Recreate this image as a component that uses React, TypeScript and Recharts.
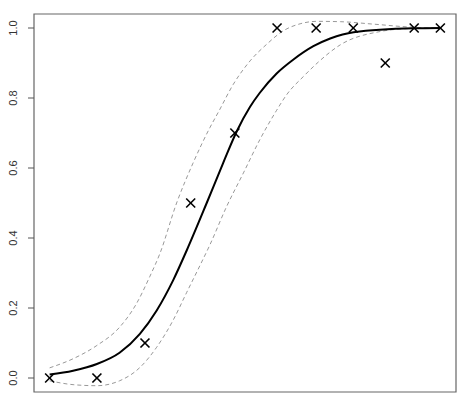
import { ComposedChart, Line, Scatter, XAxis, YAxis, ReferenceArea } from "recharts";

// observed proportions (x on the plot's own scale)
const obsX = [0, 1.21, 2.44, 3.61, 4.74, 5.82, 6.82, 7.77, 8.59, 9.33, 10];
const obsY = [0, 0, 0.1, 0.5, 0.7, 1, 1, 1, 0.9, 1, 1];

// fitted curve
const fitX = [0, 0.6, 1.21, 1.79, 2.31, 2.74, 3.16, 3.51, 4.02, 4.44, 4.79, 5.13, 5.38, 5.81, 6.24, 6.75, 7.18, 7.78, 9.32, 10];
const fitY = [0.01, 0.021, 0.04, 0.072, 0.126, 0.193, 0.279, 0.365, 0.5, 0.614, 0.705, 0.775, 0.815, 0.87, 0.91, 0.948, 0.97, 0.988, 0.999, 1];

// upper confidence band
const upX = [0, 0.6, 1.21, 1.79, 2.22, 2.56, 2.82, 3.25, 3.67, 4.1, 4.32, 4.7, 5.13, 5.56, 5.98, 6.41, 6.84, 7.44, 8.29, 9.32, 10];
const upY = [0.029, 0.055, 0.093, 0.145, 0.212, 0.289, 0.355, 0.5, 0.614, 0.715, 0.76, 0.839, 0.906, 0.954, 0.992, 1.012, 1.019, 1.018, 1.011, 1.002, 1];

// lower confidence band
const loX = [0, 0.6, 1.21, 1.79, 2.31, 2.74, 3.16, 3.51, 3.85, 4.1, 4.53, 4.96, 5.38, 5.81, 6.07, 6.5, 6.88, 7.44, 8.46, 9.15, 10];
const loY = [-0.008, -0.019, -0.022, -0.008, 0.03, 0.088, 0.165, 0.245, 0.322, 0.38, 0.49, 0.586, 0.681, 0.765, 0.81, 0.862, 0.903, 0.952, 0.99, 0.998, 1];

const yTicks = [0, 0.2, 0.4, 0.6, 0.8, 1];

const pair = (xs: number[], ys: number[]) => xs.map((x, i) => ({ x, y: ys[i] }));
const pts = pair(obsX, obsY);
const fit = pair(fitX, fitY);
const upper = pair(upX, upY);
const lower = pair(loX, loY);

function Cross(props: any) {
  const { cx, cy } = props;
  const s = 4.5;
  return (
    <g stroke="#000" strokeWidth={1.6}>
      <line x1={cx - s} y1={cy - s} x2={cx + s} y2={cy + s} />
      <line x1={cx - s} y1={cy + s} x2={cx + s} y2={cy - s} />
    </g>
  );
}

function YTick({ y, payload }: any) {
  return (
    <g transform={`translate(17,${y})`}>
      <text
        transform="rotate(-90)"
        textAnchor="middle"
        fill="#333"
        fontSize={11}
        fontFamily="Liberation Sans, Arial, sans-serif"
      >
        {Number(payload.value).toFixed(1)}
      </text>
    </g>
  );
}

export default function App() {
  return (
    <div style={{ position: "absolute", left: 0, top: 0, background: "#fff" }}>
      <ComposedChart width={474} height={415} margin={{ top: 14, right: 18, bottom: 23, left: 0 }}>
        <XAxis type="number" dataKey="x" domain={[-0.4, 10.4]} hide />
        <YAxis
          type="number"
          domain={[-0.04, 1.04]}
          ticks={yTicks}
          width={34}
          axisLine={false}
          tickLine={{ stroke: "#555" }}
          tickSize={6}
          tick={<YTick />}
        />
        <ReferenceArea x1={-0.4} x2={10.4} y1={-0.04} y2={1.04} fill="none" stroke="#666" strokeWidth={1.2} fillOpacity={0} />
        <Line data={upper} dataKey="y" type="monotone" stroke="#999" strokeWidth={1} strokeDasharray="4 3" dot={false} isAnimationActive={false} />
        <Line data={lower} dataKey="y" type="monotone" stroke="#999" strokeWidth={1} strokeDasharray="4 3" dot={false} isAnimationActive={false} />
        <Line data={fit} dataKey="y" type="monotone" stroke="#000" strokeWidth={2} dot={false} isAnimationActive={false} />
        <Scatter data={pts} dataKey="y" shape={<Cross />} isAnimationActive={false} />
      </ComposedChart>
    </div>
  );
}
